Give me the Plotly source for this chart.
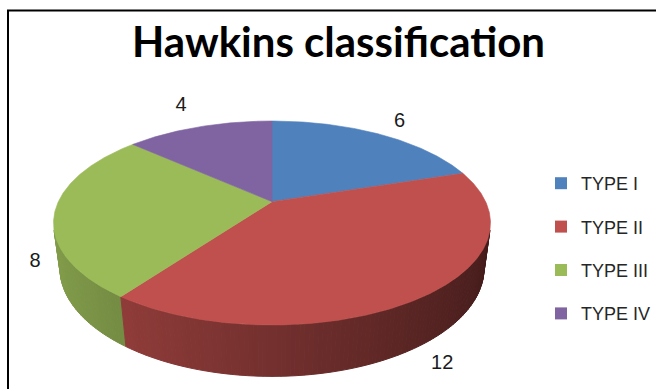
import math
import plotly.graph_objects as go

# Hawkins classification counts
labels = ["TYPE I", "TYPE II", "TYPE III", "TYPE IV"]
values = [6, 12, 8, 4]
colors = ["#4F81BD", "#C0504D", "#9BBB59", "#8064A2"]

# ---- 3D pie geometry (cylinder viewed from above with perspective) ----
PHI = math.radians(30)   # viewing elevation
DCAM = 4.26              # camera distance (unit radius)
H = 0.24                 # pie thickness
CX = 272                 # horizontal centre in px
TOP_FAR, TOP_NEAR = 121, 325  # px rows of far / near rim of the top face


def project(theta_deg, r, y):
    t = math.radians(theta_deg)
    X = r * math.sin(t)
    D = r * math.cos(t)          # positive = away from viewer
    yv = y * math.cos(PHI) + D * math.sin(PHI)
    depth = DCAM + D * math.cos(PHI) - y * math.sin(PHI)
    k = DCAM / depth
    return X * k, yv * k


_vf = project(0, 1, H)[1]
_vn = project(180, 1, H)[1]
S = (TOP_NEAR - TOP_FAR) / (_vf - _vn)
CY = TOP_FAR + S * _vf


def to_px(theta_deg, r, y):
    u, v = project(theta_deg, r, y)
    return CX + S * u, CY - S * v


def shade(hex_color, f):
    h = hex_color.lstrip("#")
    rgb = [int(h[i:i + 2], 16) for i in (0, 2, 4)]
    return "rgb(%d,%d,%d)" % tuple(max(0, min(255, round(c * f))) for c in rgb)


# slice angles, clockwise from 12 o'clock
total = sum(values)
bounds = []
acc = 0.0
for v in values:
    a0 = acc / total * 360
    acc += v
    bounds.append((a0, acc / total * 360))

fig = go.Figure()

# outer wall, split into thin strips so the shading can vary around the rim
strips = []
STEP = 1.0
for (a0, a1), col in zip(bounds, colors):
    n = max(1, int(math.ceil((a1 - a0) / STEP)))
    for i in range(n):
        ta = a0 + (a1 - a0) * i / n
        tb = a0 + (a1 - a0) * (i + 1) / n
        pts = [to_px(ta, 1, H), to_px(tb, 1, H), to_px(tb, 1, 0), to_px(ta, 1, 0)]
        area = 0.0
        for j in range(4):
            x1, y1 = pts[j]
            x2, y2 = pts[(j + 1) % 4]
            area += x1 * y2 - x2 * y1
        if area >= 0:   # back-facing
            continue
        tm = math.radians((ta + tb) / 2)
        f = 0.6 - 0.25 * math.sin(tm)
        strips.append((math.cos(tm), pts, shade(col, f)))

strips.sort(key=lambda s: -s[0])
for _, pts, c in strips:
    xs = [p[0] for p in pts] + [pts[0][0]]
    ys = [p[1] for p in pts] + [pts[0][1]]
    fig.add_trace(go.Scatter(x=xs, y=ys, mode="lines", fill="toself",
                             fillcolor=c, line=dict(color=c, width=1),
                             hoverinfo="skip", showlegend=False))

# top faces
for (a0, a1), col, lab, val in zip(bounds, colors, labels, values):
    n = max(2, int((a1 - a0) / 0.5))
    arc = [to_px(a0 + (a1 - a0) * i / n, 1, H) for i in range(n + 1)]
    c0 = to_px(0, 0, H)
    xs = [c0[0]] + [p[0] for p in arc] + [c0[0]]
    ys = [c0[1]] + [p[1] for p in arc] + [c0[1]]
    fig.add_trace(go.Scatter(x=xs, y=ys, mode="lines", fill="toself",
                             fillcolor=col, line=dict(color=col, width=0.6),
                             name=lab, text=[f"{lab}: {val}"] * len(xs),
                             hoverinfo="text", showlegend=False))

# data labels placed outside each slice
label_nudge = [(8, -24), (-6, 24), (10, 25), (-10, -31)]
lx, ly = [], []
for (a0, a1), (dx, dy) in zip(bounds, label_nudge):
    px, py = to_px((a0 + a1) / 2, 1.15, H / 2)
    lx.append(px + dx)
    ly.append(py + dy)
fig.add_trace(go.Scatter(x=lx, y=ly, mode="text", text=[str(v) for v in values],
                         textfont=dict(family="Liberation Sans, Arial, sans-serif",
                                       size=20, color="#1a1a1a"),
                         hoverinfo="skip", showlegend=False))

# legend entries
for lab, col in zip(labels, colors):
    fig.add_trace(go.Scatter(x=[None], y=[None], mode="markers", name=lab,
                             legendgroup=lab,
                             marker=dict(symbol="square", size=12, color=col)))

fig.update_layout(
    width=656, height=389,
    margin=dict(l=0, r=0, t=0, b=0),
    paper_bgcolor="white", plot_bgcolor="white",
    xaxis=dict(range=[0, 656], visible=False, fixedrange=True),
    yaxis=dict(range=[389, 0], visible=False, fixedrange=True),
    showlegend=True,
    legend=dict(x=541 / 656, y=1 - 165 / 389, xanchor="left", yanchor="top",
                font=dict(family="Liberation Sans, Arial, sans-serif", size=18,
                          color="#262626"),
                tracegroupgap=17, bgcolor="rgba(0,0,0,0)", itemwidth=30),
    annotations=[dict(text="<b>Hawkins classification</b>", x=338, y=41,
                      xref="x", yref="y", xanchor="center", yanchor="middle",
                      showarrow=False,
                      font=dict(family="Lato, sans-serif",
                                size=42, color="#000000"))],
    shapes=[dict(type="path", path="M 8 389 L 8 10.5 L 656 10.5",
                 xref="x", yref="y", line=dict(color="black", width=2))],
)

fig.write_html("out.html")
